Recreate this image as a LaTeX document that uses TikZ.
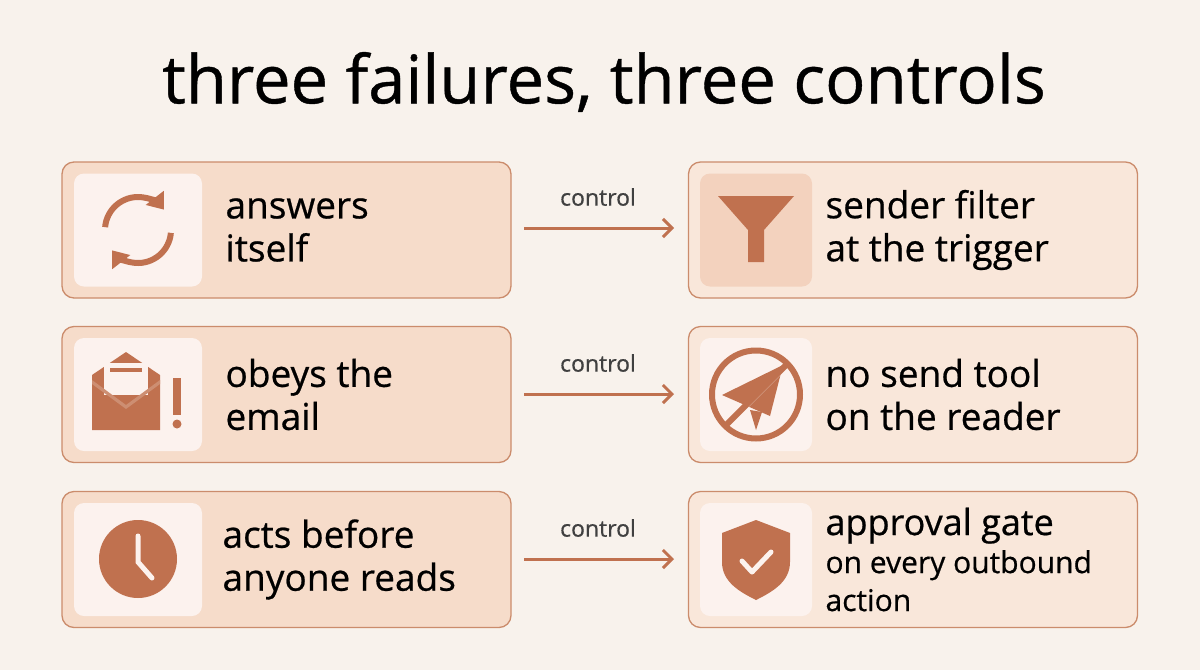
\documentclass[tikz,border=0pt]{standalone}
\usepackage{fontspec}
\setmainfont{Open Sans}[FakeBold=0.6]
\usetikzlibrary{arrows.meta}
\definecolor{bg}{HTML}{F8F2EC}
\definecolor{lbox}{HTML}{F6DCCA}
\definecolor{rbox}{HTML}{F9E7DA}
\definecolor{edge}{HTML}{CB8C6C}
\definecolor{ic}{HTML}{C0714F}
\definecolor{isq}{HTML}{FCF2EE}
\definecolor{isqd}{HTML}{F3D2BE}
\begin{document}
\begin{tikzpicture}[x=1pt,y=-1pt,
 box/.style={draw=edge,line width=1.3pt,rounded corners=12pt,minimum width=449pt,minimum height=136pt,inner sep=0pt},
 sq/.style={fill=isq,rounded corners=10pt,minimum width=128pt,minimum height=113pt,inner sep=0pt},
 lbl/.style={anchor=west,align=left,font=\fontsize{37}{43}\selectfont,text=black},
 arr/.style={draw=ic,line width=3pt,-{Straight Barb[length=9pt,width=18pt]}},
 ctl/.style={font=\fontsize{23}{26}\selectfont,text=black!75}]
\fill[bg] (0,0) rectangle (1200,670);
\node[font=\fontsize{67}{72}\selectfont] (title) at (604,82) {three failures, three controls};
% boxes
\node[box,fill=lbox] (f1) at (286.5,230) {};
\node[box,fill=lbox] (f2) at (286.5,394.5) {};
\node[box,fill=lbox] (f3) at (286.5,559.5) {};
\node[box,fill=rbox] (c1) at (913,230) {};
\node[box,fill=rbox] (c2) at (913,394.5) {};
\node[box,fill=rbox] (c3) at (913,559.5) {};
% icon squares
\node[sq] (s1) at (138,230) {};
\node[sq] (s2) at (138,394.5) {};
\node[sq] (s3) at (138,559.5) {};
\node[sq,fill=isqd,minimum width=112pt] (t1) at (756,230) {};
\node[sq,minimum width=112pt] (t2) at (756,394.5) {};
\node[sq,minimum width=112pt] (t3) at (756,559.5) {};
% labels
\node[lbl] (a1) at (222,230) {answers\\itself};
\node[lbl] (a2) at (222,394.5) {obeys the\\email};
\node[lbl] (a3) at (219,559.5) {acts before\\anyone reads};
\node[lbl] (b1) at (822,230) {sender filter\\at the trigger};
\node[lbl] (b2) at (822,394.5) {no send tool\\on the reader};
\node[lbl,font=\fontsize{36}{38}\selectfont] (b3) at (822,559.5) {approval gate\\{\fontsize{30}{37}\selectfont on every outbound}\\{\fontsize{30}{34}\selectfont action}};
% arrows
\foreach \i/\y in {1/228,2/394,3/559}{
 \coordinate (p\i) at (524,\y); \coordinate (q\i) at (674,\y);
 \draw[arr] (p\i) -- (q\i);
 \node[ctl] (k\i) at (598,\y-31) {control};
}
% icon 1: refresh
\draw[ic,line width=6pt,-{Triangle[length=15pt,width=22pt]}] (138,230) ++(185:33) arc (185:322:33);
\draw[ic,line width=6pt,-{Triangle[length=15pt,width=22pt]}] (138,230) ++(5:33) arc (5:142:33);
% icon 2: envelope with !
\fill[ic] (92,375) -- (126,352) -- (160,375) -- (160,430) -- (92,430) -- cycle;
\fill[isq] (104,363) rectangle (148,395);
\fill[ic] (110,368) rectangle (142,372);
\fill[ic!80!white] (92,380) -- (126,405) -- (160,380) -- (160,384) -- (126,409) -- (92,384) -- cycle;
\fill[ic] (173,378) rectangle (181,415);
\fill[ic] (177,424) circle (4.5pt);
% icon 3: clock
\fill[ic] (138,559) circle (39pt);
\draw[isq,line width=5pt,line cap=round] (138,536) -- (138,562) -- (152,578);
% right icon 1: funnel
\fill[ic] (718,196) -- (794,196) -- (764,230) -- (764,262) -- (748,262) -- (748,230) -- cycle;
% right icon 2: no send
\draw[ic,line width=6pt] (756,394.5) circle (44pt);
\fill[ic] (722,395) -- (783,365) -- (770,416) -- cycle;
\fill[ic] (750,410) -- (756,430) -- (762,412) -- cycle;
\draw[isq,line width=5pt] (732,420) -- (784,368);
\draw[ic,line width=6pt] (725,426) -- (788,363);
% right icon 3: shield
\fill[ic] (756,520) -- (790,533) -- (790,562) .. controls (790,582) and (772,592) .. (756,600) .. controls (740,592) and (722,582) .. (722,562) -- (722,533) -- cycle;
\draw[isq,line width=5pt,line cap=round,line join=round] (742,561) -- (752,572) -- (771,552);
\end{tikzpicture}
\end{document}
